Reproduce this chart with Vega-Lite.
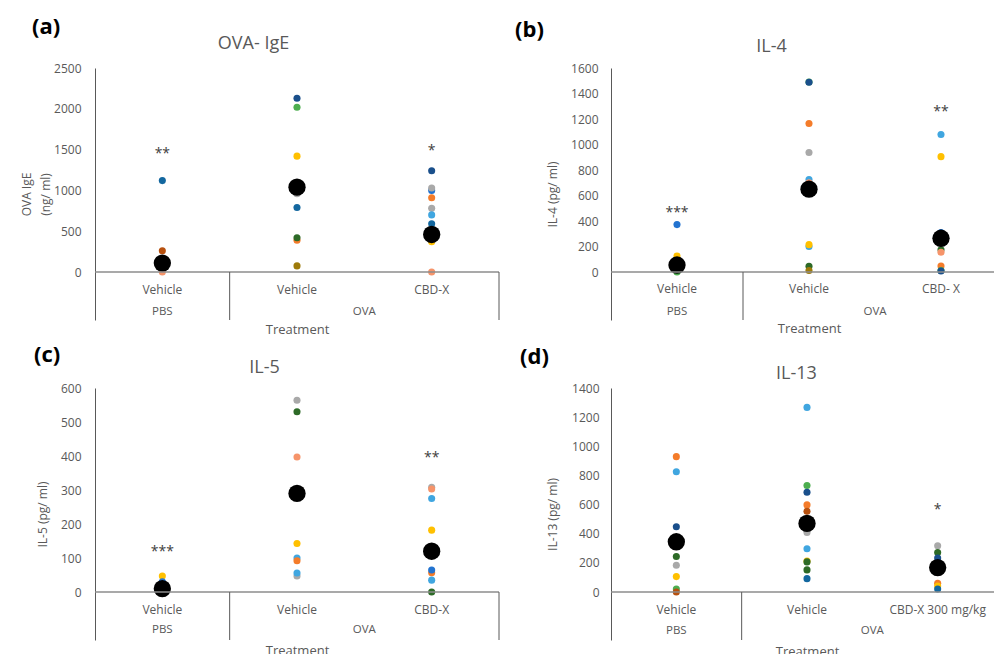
{
  "$schema": "https://vega.github.io/schema/vega-lite/v6.json",
  "padding": {"left": 20, "top": 16, "right": 0, "bottom": 0},
  "background": "#ffffff",
  "config": {
    "font": "Open Sans",
    "view": {"stroke": null},
    "axis": {"labelFont": "Open Sans", "labelFontSize": 12, "labelColor": "#595959", "titleFont": "Open Sans", "titleFontSize": 12, "titleFontWeight": "normal", "titleColor": "#595959", "grid": false, "ticks": false, "domainColor": "#595959"},
    "axisY": {"format": "d", "labelOverlap": false, "titleBaseline": "middle"},
    "title": {"font": "Open Sans", "fontSize": 22, "fontWeight": "bold", "color": "#000000", "anchor": "start", "frame": "group"}
  },
  "datasets": {
    "a_pts": [
      {"cond": "PBS|Vehicle", "mouse": "m3", "value": 1120},
      {"cond": "PBS|Vehicle", "mouse": "m11", "value": 260},
      {"cond": "PBS|Vehicle", "mouse": "m6", "value": 0},
      {"cond": "OVA|Vehicle", "mouse": "m1", "value": 2130},
      {"cond": "OVA|Vehicle", "mouse": "m9", "value": 2020},
      {"cond": "OVA|Vehicle", "mouse": "m8", "value": 1420},
      {"cond": "OVA|Vehicle", "mouse": "m7", "value": 960},
      {"cond": "OVA|Vehicle", "mouse": "m3", "value": 790},
      {"cond": "OVA|Vehicle", "mouse": "m5", "value": 390},
      {"cond": "OVA|Vehicle", "mouse": "m10", "value": 420},
      {"cond": "OVA|Vehicle", "mouse": "m12", "value": 75},
      {"cond": "OVA|CBD-X", "mouse": "m1", "value": 1240},
      {"cond": "OVA|CBD-X", "mouse": "m2", "value": 1000},
      {"cond": "OVA|CBD-X", "mouse": "m7", "value": 1030},
      {"cond": "OVA|CBD-X", "mouse": "m5", "value": 910},
      {"cond": "OVA|CBD-X", "mouse": "m7", "value": 780},
      {"cond": "OVA|CBD-X", "mouse": "m4", "value": 700},
      {"cond": "OVA|CBD-X", "mouse": "m3", "value": 590},
      {"cond": "OVA|CBD-X", "mouse": "m4", "value": 385},
      {"cond": "OVA|CBD-X", "mouse": "m8", "value": 370},
      {"cond": "OVA|CBD-X", "mouse": "m6", "value": 0}
    ],
    "a_mean": [
      {"cond": "PBS|Vehicle", "value": 110},
      {"cond": "OVA|Vehicle", "value": 1040},
      {"cond": "OVA|CBD-X", "value": 460}
    ],
    "a_sig": [
      {"cond": "PBS|Vehicle", "label": "**", "value": 1450},
      {"cond": "OVA|CBD-X", "label": "*", "value": 1480}
    ],
    "b_pts": [
      {"cond": "PBS|Vehicle", "mouse": "m2", "value": 372},
      {"cond": "PBS|Vehicle", "mouse": "m8", "value": 125},
      {"cond": "PBS|Vehicle", "mouse": "m9", "value": 0},
      {"cond": "PBS|Vehicle", "mouse": "m6", "value": 22},
      {"cond": "OVA|Vehicle", "mouse": "m9", "value": 1490},
      {"cond": "OVA|Vehicle", "mouse": "m1", "value": 1488},
      {"cond": "OVA|Vehicle", "mouse": "m5", "value": 1165},
      {"cond": "OVA|Vehicle", "mouse": "m7", "value": 937},
      {"cond": "OVA|Vehicle", "mouse": "m4", "value": 725},
      {"cond": "OVA|Vehicle", "mouse": "m6", "value": 700},
      {"cond": "OVA|Vehicle", "mouse": "m4", "value": 200},
      {"cond": "OVA|Vehicle", "mouse": "m8", "value": 215},
      {"cond": "OVA|Vehicle", "mouse": "m10", "value": 45},
      {"cond": "OVA|Vehicle", "mouse": "m12", "value": 12},
      {"cond": "OVA|CBD- X", "mouse": "m4", "value": 1078},
      {"cond": "OVA|CBD- X", "mouse": "m8", "value": 905},
      {"cond": "OVA|CBD- X", "mouse": "m2", "value": 310},
      {"cond": "OVA|CBD- X", "mouse": "m10", "value": 175},
      {"cond": "OVA|CBD- X", "mouse": "m6", "value": 155},
      {"cond": "OVA|CBD- X", "mouse": "m5", "value": 47},
      {"cond": "OVA|CBD- X", "mouse": "m9", "value": 12},
      {"cond": "OVA|CBD- X", "mouse": "m1", "value": 8}
    ],
    "b_mean": [
      {"cond": "PBS|Vehicle", "value": 55},
      {"cond": "OVA|Vehicle", "value": 650},
      {"cond": "OVA|CBD- X", "value": 265}
    ],
    "b_sig": [
      {"cond": "PBS|Vehicle", "label": "***", "value": 463},
      {"cond": "OVA|CBD- X", "label": "**", "value": 1255}
    ],
    "c_pts": [
      {"cond": "PBS|Vehicle", "mouse": "m8", "value": 47},
      {"cond": "PBS|Vehicle", "mouse": "m2", "value": 30},
      {"cond": "OVA|Vehicle", "mouse": "m7", "value": 564},
      {"cond": "OVA|Vehicle", "mouse": "m10", "value": 530},
      {"cond": "OVA|Vehicle", "mouse": "m6", "value": 397},
      {"cond": "OVA|Vehicle", "mouse": "m8", "value": 143},
      {"cond": "OVA|Vehicle", "mouse": "m4", "value": 100},
      {"cond": "OVA|Vehicle", "mouse": "m5", "value": 92},
      {"cond": "OVA|Vehicle", "mouse": "m7", "value": 47},
      {"cond": "OVA|Vehicle", "mouse": "m4", "value": 56},
      {"cond": "OVA|CBD-X", "mouse": "m7", "value": 308},
      {"cond": "OVA|CBD-X", "mouse": "m6", "value": 303},
      {"cond": "OVA|CBD-X", "mouse": "m4", "value": 275},
      {"cond": "OVA|CBD-X", "mouse": "m8", "value": 182},
      {"cond": "OVA|CBD-X", "mouse": "m5", "value": 57},
      {"cond": "OVA|CBD-X", "mouse": "m2", "value": 65},
      {"cond": "OVA|CBD-X", "mouse": "m4", "value": 35},
      {"cond": "OVA|CBD-X", "mouse": "m10", "value": 0}
    ],
    "c_mean": [
      {"cond": "PBS|Vehicle", "value": 10},
      {"cond": "OVA|Vehicle", "value": 290},
      {"cond": "OVA|CBD-X", "value": 120}
    ],
    "c_sig": [
      {"cond": "PBS|Vehicle", "label": "***", "value": 118},
      {"cond": "OVA|CBD-X", "label": "**", "value": 393}
    ],
    "d_pts": [
      {"cond": "PBS|Vehicle", "mouse": "m5", "value": 929},
      {"cond": "PBS|Vehicle", "mouse": "m4", "value": 825},
      {"cond": "PBS|Vehicle", "mouse": "m1", "value": 448},
      {"cond": "PBS|Vehicle", "mouse": "m10", "value": 244},
      {"cond": "PBS|Vehicle", "mouse": "m7", "value": 184},
      {"cond": "PBS|Vehicle", "mouse": "m8", "value": 106},
      {"cond": "PBS|Vehicle", "mouse": "m9", "value": 21},
      {"cond": "PBS|Vehicle", "mouse": "m11", "value": 0},
      {"cond": "OVA|Vehicle", "mouse": "m4", "value": 1267},
      {"cond": "OVA|Vehicle", "mouse": "m9", "value": 731},
      {"cond": "OVA|Vehicle", "mouse": "m1", "value": 685},
      {"cond": "OVA|Vehicle", "mouse": "m5", "value": 598},
      {"cond": "OVA|Vehicle", "mouse": "m11", "value": 554},
      {"cond": "OVA|Vehicle", "mouse": "m7", "value": 409},
      {"cond": "OVA|Vehicle", "mouse": "m4", "value": 297},
      {"cond": "OVA|Vehicle", "mouse": "m8", "value": 212},
      {"cond": "OVA|Vehicle", "mouse": "m10", "value": 207},
      {"cond": "OVA|Vehicle", "mouse": "m10", "value": 152},
      {"cond": "OVA|Vehicle", "mouse": "m3", "value": 92},
      {"cond": "OVA|CBD-X 300 mg/kg", "mouse": "m7", "value": 317},
      {"cond": "OVA|CBD-X 300 mg/kg", "mouse": "m10", "value": 271},
      {"cond": "OVA|CBD-X 300 mg/kg", "mouse": "m1", "value": 234},
      {"cond": "OVA|CBD-X 300 mg/kg", "mouse": "m5", "value": 60},
      {"cond": "OVA|CBD-X 300 mg/kg", "mouse": "m8", "value": 41},
      {"cond": "OVA|CBD-X 300 mg/kg", "mouse": "m3", "value": 21}
    ],
    "d_mean": [
      {"cond": "PBS|Vehicle", "value": 345},
      {"cond": "OVA|Vehicle", "value": 471},
      {"cond": "OVA|CBD-X 300 mg/kg", "value": 168}
    ],
    "d_sig": [
      {"cond": "OVA|CBD-X 300 mg/kg", "label": "*", "value": 563}
    ]
  },
  "columns": 2,
  "spacing": {"row": 8, "column": 15},
  "concat": [
    {
      "width": 404, "height": 252,
      "title": {"text": "(a)", "dx": -63, "offset": -5},
      "layer": [
        {"data": {"name": "a_pts"}, "mark": {"type": "circle", "size": 50, "opacity": 1},
          "encoding": {
            "x": {"field": "cond", "type": "nominal", "scale": {"domain": ["PBS|Vehicle", "OVA|Vehicle", "OVA|CBD-X"], "paddingInner": 0, "paddingOuter": 0},
              "axis": {"orient": "bottom", "title": "Treatment", "titleFontSize": 13, "titleY": 9, "titleBaseline": "middle", "labelExpr": "split(datum.value, '|')[1]", "labelAngle": 0, "domain": false, "ticks": false, "labelPadding": -31, "labelBaseline": "middle"}},
            "y": {"field": "value", "type": "quantitative", "scale": {"domain": [-588, 2500], "nice": false, "zero": false},
              "axis": {"values": [0, 500, 1000, 1500, 2000, 2500], "labelOverlap": false, "title": ["OVA IgE", "(ng/ ml)"], "titleLineHeight": 19, "titleX": -69, "labelPadding": 14}},
            "color": {"field": "mouse", "type": "nominal", "legend": null,
              "scale": {"domain": ["m1", "m2", "m3", "m4", "m5", "m6", "m7", "m8", "m9", "m10", "m11", "m12"], "range": ["#1A4F8B", "#2273D0", "#13679F", "#40A6E0", "#F47C2A", "#F6946A", "#A9A9A9", "#FFC000", "#4DAE4F", "#2D6A27", "#B7500E", "#9E7B0A"]}}
          }},
        {"data": {"name": "a_mean"}, "mark": {"type": "circle", "size": 300, "color": "#000000", "opacity": 1},
          "encoding": {"x": {"field": "cond", "type": "nominal", "axis": null}, "y": {"field": "value", "type": "quantitative", "axis": null}}},
        {"data": {"name": "a_sig"}, "mark": {"type": "text", "fontSize": 14, "color": "#404040", "baseline": "middle"},
          "encoding": {"x": {"field": "cond", "type": "nominal", "axis": null}, "y": {"field": "value", "type": "quantitative", "axis": null}, "text": {"field": "label"}}},
        {"data": {"values": [{}]}, "mark": {"type": "rule", "color": "#8c8c8c", "strokeWidth": 1.5}, "encoding": {"y": {"datum": 0, "axis": null}}},
        {"data": {"values": [{}]}, "mark": {"type": "rule", "color": "#595959"},
          "encoding": {"x": {"datum": "PBS|Vehicle", "type": "nominal", "bandPosition": 1, "axis": {"orient": "top", "title": "OVA- IgE", "titleFontSize": 18, "titleX": 158, "titleY": -20, "titleBaseline": "alphabetic", "labels": false, "domain": false, "ticks": false}}, "y": {"datum": 0, "axis": null}, "y2": {"datum": -588}}},
        {"data": {"values": [{}]}, "mark": {"type": "rule", "color": "#595959"},
          "encoding": {"x": {"datum": "OVA|CBD-X", "type": "nominal", "bandPosition": 1, "axis": null}, "y": {"datum": 0, "axis": null}, "y2": {"datum": -588}}},
        {"data": {"values": [{}]}, "mark": {"type": "text", "fontSize": 11.5, "color": "#595959"},
          "encoding": {"x": {"datum": "PBS|Vehicle", "type": "nominal", "axis": null}, "y": {"datum": -490, "axis": null}, "text": {"value": "PBS"}}},
        {"data": {"values": [{}]}, "mark": {"type": "text", "fontSize": 11.5, "color": "#595959"},
          "encoding": {"x": {"datum": "OVA|Vehicle", "type": "nominal", "bandPosition": 1, "axis": null}, "y": {"datum": -490, "axis": null}, "text": {"value": "OVA"}}}
      ],
      "resolve": {"axis": {"x": "independent", "y": "independent"}}
    },
    {
      "width": 396, "height": 252,
      "title": {"text": "(b)", "dx": -96, "offset": -5},
      "layer": [
        {"data": {"name": "b_pts"}, "mark": {"type": "circle", "size": 50, "opacity": 1},
          "encoding": {
            "x": {"field": "cond", "type": "nominal", "scale": {"domain": ["PBS|Vehicle", "OVA|Vehicle", "OVA|CBD- X"], "paddingInner": 0, "paddingOuter": 0},
              "axis": {"orient": "bottom", "title": "Treatment", "titleFontSize": 13, "titleY": 8, "titleBaseline": "middle", "labelExpr": "split(datum.value, '|')[1]", "labelAngle": 0, "domain": false, "ticks": false, "labelPadding": -32, "labelBaseline": "middle"}},
            "y": {"field": "value", "type": "quantitative", "scale": {"domain": [-376, 1600], "nice": false, "zero": false},
              "axis": {"values": [0, 200, 400, 600, 800, 1000, 1200, 1400, 1600], "labelOverlap": false, "title": "IL-4 (pg/ ml)", "titleX": -59, "labelPadding": 13}},
            "color": {"field": "mouse", "type": "nominal", "legend": null,
              "scale": {"domain": ["m1", "m2", "m3", "m4", "m5", "m6", "m7", "m8", "m9", "m10", "m11", "m12"], "range": ["#1A4F8B", "#2273D0", "#13679F", "#40A6E0", "#F47C2A", "#F6946A", "#A9A9A9", "#FFC000", "#4DAE4F", "#2D6A27", "#B7500E", "#9E7B0A"]}}
          }},
        {"data": {"name": "b_mean"}, "mark": {"type": "circle", "size": 300, "color": "#000000", "opacity": 1},
          "encoding": {"x": {"field": "cond", "type": "nominal", "axis": null}, "y": {"field": "value", "type": "quantitative", "axis": null}}},
        {"data": {"name": "b_sig"}, "mark": {"type": "text", "fontSize": 14, "color": "#404040", "baseline": "middle"},
          "encoding": {"x": {"field": "cond", "type": "nominal", "axis": null}, "y": {"field": "value", "type": "quantitative", "axis": null}, "text": {"field": "label"}}},
        {"data": {"values": [{}]}, "mark": {"type": "rule", "color": "#8c8c8c", "strokeWidth": 1.5}, "encoding": {"y": {"datum": 0, "axis": null}}},
        {"data": {"values": [{}]}, "mark": {"type": "rule", "color": "#595959"},
          "encoding": {"x": {"datum": "PBS|Vehicle", "type": "nominal", "bandPosition": 1, "axis": {"orient": "top", "title": "IL-4", "titleFontSize": 18, "titleX": 160, "titleY": -17, "titleBaseline": "alphabetic", "labels": false, "domain": false, "ticks": false}}, "y": {"datum": 0, "axis": null}, "y2": {"datum": -376}}},
        {"data": {"values": [{}]}, "mark": {"type": "text", "fontSize": 11.5, "color": "#595959"},
          "encoding": {"x": {"datum": "PBS|Vehicle", "type": "nominal", "axis": null}, "y": {"datum": -314, "axis": null}, "text": {"value": "PBS"}}},
        {"data": {"values": [{}]}, "mark": {"type": "text", "fontSize": 11.5, "color": "#595959"},
          "encoding": {"x": {"datum": "OVA|Vehicle", "type": "nominal", "bandPosition": 1, "axis": null}, "y": {"datum": -314, "axis": null}, "text": {"value": "OVA"}}}
      ],
      "resolve": {"axis": {"x": "independent", "y": "independent"}}
    },
    {
      "width": 404, "height": 252,
      "title": {"text": "(c)", "dx": -61, "offset": -9},
      "layer": [
        {"data": {"name": "c_pts"}, "mark": {"type": "circle", "size": 50, "opacity": 1},
          "encoding": {
            "x": {"field": "cond", "type": "nominal", "scale": {"domain": ["PBS|Vehicle", "OVA|Vehicle", "OVA|CBD-X"], "paddingInner": 0, "paddingOuter": 0},
              "axis": {"orient": "bottom", "title": "Treatment", "titleFontSize": 13, "titleY": 10, "titleBaseline": "middle", "labelExpr": "split(datum.value, '|')[1]", "labelAngle": 0, "domain": false, "ticks": false, "labelPadding": -31, "labelBaseline": "middle"}},
            "y": {"field": "value", "type": "quantitative", "scale": {"domain": [-141, 600], "nice": false, "zero": false},
              "axis": {"values": [0, 100, 200, 300, 400, 500, 600], "labelOverlap": false, "title": "IL-5 (pg/ ml)", "titleX": -53, "labelPadding": 14}},
            "color": {"field": "mouse", "type": "nominal", "legend": null,
              "scale": {"domain": ["m1", "m2", "m3", "m4", "m5", "m6", "m7", "m8", "m9", "m10", "m11", "m12"], "range": ["#1A4F8B", "#2273D0", "#13679F", "#40A6E0", "#F47C2A", "#F6946A", "#A9A9A9", "#FFC000", "#4DAE4F", "#2D6A27", "#B7500E", "#9E7B0A"]}}
          }},
        {"data": {"name": "c_mean"}, "mark": {"type": "circle", "size": 300, "color": "#000000", "opacity": 1},
          "encoding": {"x": {"field": "cond", "type": "nominal", "axis": null}, "y": {"field": "value", "type": "quantitative", "axis": null}}},
        {"data": {"name": "c_sig"}, "mark": {"type": "text", "fontSize": 14, "color": "#404040", "baseline": "middle"},
          "encoding": {"x": {"field": "cond", "type": "nominal", "axis": null}, "y": {"field": "value", "type": "quantitative", "axis": null}, "text": {"field": "label"}}},
        {"data": {"values": [{}]}, "mark": {"type": "rule", "color": "#8c8c8c", "strokeWidth": 1.5}, "encoding": {"y": {"datum": 0, "axis": null}}},
        {"data": {"values": [{}]}, "mark": {"type": "rule", "color": "#595959"},
          "encoding": {"x": {"datum": "PBS|Vehicle", "type": "nominal", "bandPosition": 1, "axis": {"orient": "top", "title": "IL-5", "titleFontSize": 18, "titleX": 169, "titleY": -16, "titleBaseline": "alphabetic", "labels": false, "domain": false, "ticks": false}}, "y": {"datum": 0, "axis": null}, "y2": {"datum": -141}}},
        {"data": {"values": [{}]}, "mark": {"type": "rule", "color": "#595959"},
          "encoding": {"x": {"datum": "OVA|CBD-X", "type": "nominal", "bandPosition": 1, "axis": null}, "y": {"datum": 0, "axis": null}, "y2": {"datum": -141}}},
        {"data": {"values": [{}]}, "mark": {"type": "text", "fontSize": 11.5, "color": "#595959"},
          "encoding": {"x": {"datum": "PBS|Vehicle", "type": "nominal", "axis": null}, "y": {"datum": -111, "axis": null}, "text": {"value": "PBS"}}},
        {"data": {"values": [{}]}, "mark": {"type": "text", "fontSize": 11.5, "color": "#595959"},
          "encoding": {"x": {"datum": "OVA|Vehicle", "type": "nominal", "bandPosition": 1, "axis": null}, "y": {"datum": -111, "axis": null}, "text": {"value": "OVA"}}}
      ],
      "resolve": {"axis": {"x": "independent", "y": "independent"}}
    },
    {
      "width": 392, "height": 252,
      "title": {"text": "(d)", "dx": -91, "offset": -5},
      "layer": [
        {"data": {"name": "d_pts"}, "mark": {"type": "circle", "size": 50, "opacity": 1},
          "encoding": {
            "x": {"field": "cond", "type": "nominal", "scale": {"domain": ["PBS|Vehicle", "OVA|Vehicle", "OVA|CBD-X 300 mg/kg"], "paddingInner": 0, "paddingOuter": 0},
              "axis": {"orient": "bottom", "title": "Treatment", "titleFontSize": 13, "titleY": 11, "titleBaseline": "middle", "labelExpr": "split(datum.value, '|')[1]", "labelAngle": 0, "domain": false, "ticks": false, "labelPadding": -31, "labelBaseline": "middle"}},
            "y": {"field": "value", "type": "quantitative", "scale": {"domain": [-329, 1400], "nice": false, "zero": false},
              "axis": {"values": [0, 200, 400, 600, 800, 1000, 1200, 1400], "labelOverlap": false, "title": "IL-13 (pg/ ml)", "titleX": -59, "labelPadding": 12}},
            "color": {"field": "mouse", "type": "nominal", "legend": null,
              "scale": {"domain": ["m1", "m2", "m3", "m4", "m5", "m6", "m7", "m8", "m9", "m10", "m11", "m12"], "range": ["#1A4F8B", "#2273D0", "#13679F", "#40A6E0", "#F47C2A", "#F6946A", "#A9A9A9", "#FFC000", "#4DAE4F", "#2D6A27", "#B7500E", "#9E7B0A"]}}
          }},
        {"data": {"name": "d_mean"}, "mark": {"type": "circle", "size": 300, "color": "#000000", "opacity": 1},
          "encoding": {"x": {"field": "cond", "type": "nominal", "axis": null}, "y": {"field": "value", "type": "quantitative", "axis": null}}},
        {"data": {"name": "d_sig"}, "mark": {"type": "text", "fontSize": 14, "color": "#404040", "baseline": "middle"},
          "encoding": {"x": {"field": "cond", "type": "nominal", "axis": null}, "y": {"field": "value", "type": "quantitative", "axis": null}, "text": {"field": "label"}}},
        {"data": {"values": [{}]}, "mark": {"type": "rule", "color": "#8c8c8c", "strokeWidth": 1.5}, "encoding": {"y": {"datum": 0, "axis": null}}},
        {"data": {"values": [{}]}, "mark": {"type": "rule", "color": "#595959"},
          "encoding": {"x": {"datum": "PBS|Vehicle", "type": "nominal", "bandPosition": 1, "axis": {"orient": "top", "title": "IL-13", "titleFontSize": 18, "titleX": 185, "titleY": -10, "titleBaseline": "alphabetic", "labels": false, "domain": false, "ticks": false}}, "y": {"datum": 0, "axis": null}, "y2": {"datum": -329}}},
        {"data": {"values": [{}]}, "mark": {"type": "text", "fontSize": 11.5, "color": "#595959"},
          "encoding": {"x": {"datum": "PBS|Vehicle", "type": "nominal", "axis": null}, "y": {"datum": -268, "axis": null}, "text": {"value": "PBS"}}},
        {"data": {"values": [{}]}, "mark": {"type": "text", "fontSize": 11.5, "color": "#595959"},
          "encoding": {"x": {"datum": "OVA|Vehicle", "type": "nominal", "bandPosition": 1, "axis": null}, "y": {"datum": -268, "axis": null}, "text": {"value": "OVA"}}}
      ],
      "resolve": {"axis": {"x": "independent", "y": "independent"}}
    }
  ]
}
